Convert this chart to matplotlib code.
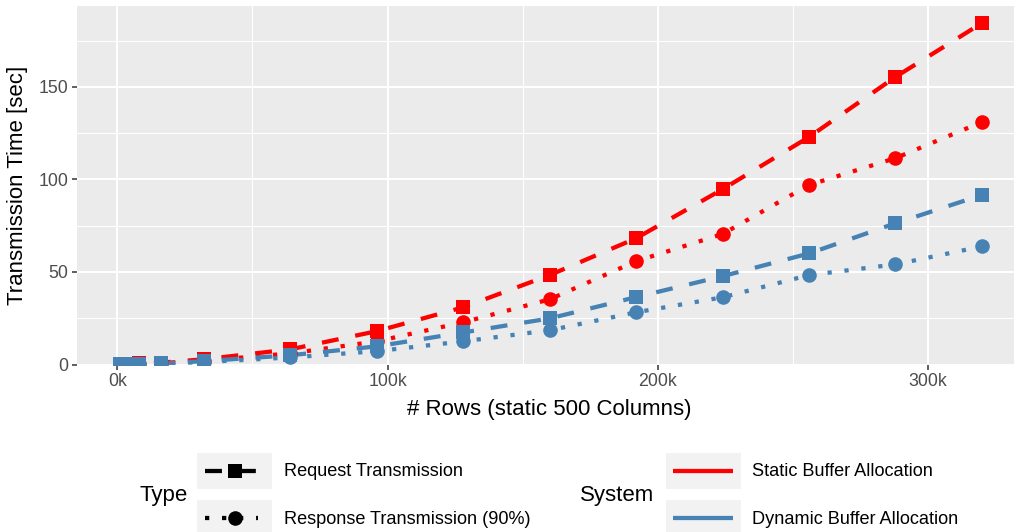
import matplotlib
matplotlib.use("Agg")
import matplotlib.pyplot as plt
from matplotlib.ticker import FuncFormatter, MultipleLocator
from matplotlib.patches import Rectangle
from matplotlib.lines import Line2D

plt.rcParams["font.family"] = ["Liberation Sans", "DejaVu Sans"]
plt.rcParams["lines.scale_dashes"] = False

# ---- data -------------------------------------------------------------
rows = [1000, 2000, 4000, 8000, 16000, 32000, 64000, 96000, 128000,
        160000, 192000, 224000, 256000, 288000, 320000]
static_request = [0.1, 0.2, 0.3, 0.6, 1.0, 2.8, 8.2, 18.0, 30.9,
                  48.3, 68.2, 94.7, 122.9, 155.4, 184.5]
static_response = [0.1, 0.1, 0.2, 0.4, 0.8, 2.0, 6.0, 12.5, 22.8,
                   35.2, 55.8, 70.5, 97.0, 111.5, 131.0]
dynamic_request = [0.1, 0.1, 0.2, 0.4, 0.6, 1.8, 5.0, 9.8, 17.3,
                   24.9, 36.4, 47.7, 60.0, 76.3, 91.6]
dynamic_response = [0.1, 0.1, 0.2, 0.3, 0.5, 1.3, 3.8, 7.2, 12.5,
                    18.5, 28.2, 36.3, 48.3, 54.1, 63.8]

systems = ["Static Buffer Allocation", "Dynamic Buffer Allocation"]
types = ["Request Transmission", "Response Transmission (90%)"]
x_ticks = [0, 100000, 200000, 300000]
y_ticks = [0, 50, 100, 150]

# ---- styling ----------------------------------------------------------
W, H, DPI = 1014, 532, 100
RED, BLUE = "#FF0000", "#4682B4"
LW = 3.06                      # points
DASHED = (12.2, 12.2)
DOTTED = (3.06, 9.2)
MS = 10.5
sys_color = {systems[0]: RED, systems[1]: BLUE}
type_style = {types[0]: (DASHED, "s"), types[1]: (DOTTED, "o")}

series = {
    (systems[0], types[0]): static_request,
    (systems[0], types[1]): static_response,
    (systems[1], types[0]): dynamic_request,
    (systems[1], types[1]): dynamic_response,
}

fig = plt.figure(figsize=(W / DPI, H / DPI), dpi=DPI)
fig.patch.set_facecolor("white")

# panel in pixel geometry (right edge runs past the canvas)
left_px, right_px, top_px, bottom_px = 77, 1025, 6, 364.5
ax = fig.add_axes([left_px / W, 1 - bottom_px / H,
                   (right_px - left_px) / W, (bottom_px - top_px) / H])
ax.set_facecolor("#EBEBEB")
for s in ax.spines.values():
    s.set_visible(False)

# lines first, then points
for sysname in systems:
    for tname in types:
        dash, _ = type_style[tname]
        ln, = ax.plot(rows, series[(sysname, tname)], color=sys_color[sysname],
                      lw=LW, zorder=3, solid_capstyle="butt",
                      dash_capstyle="butt")
        ln.set_dashes(dash)
for sysname in systems:
    for tname in types:
        _, mk = type_style[tname]
        ax.plot(rows, series[(sysname, tname)], ls="none", marker=mk,
                ms=MS, color=sys_color[sysname], mew=0, zorder=4)

xr = max(rows) - min(rows)
ax.set_xlim(min(rows) - 0.05 * xr, max(rows) + 0.05 * xr)
all_vals = static_request + static_response + dynamic_request + dynamic_response
ax.set_ylim(0, max(all_vals) * 1.05)

ax.set_xticks(x_ticks)
ax.xaxis.set_major_formatter(FuncFormatter(lambda v, p: f"{int(round(v / 1000))}k"))
ax.xaxis.set_minor_locator(MultipleLocator(50000))
ax.set_yticks(y_ticks)
ax.yaxis.set_minor_locator(MultipleLocator(25))

ax.grid(which="major", color="white", lw=1.5, zorder=0)
ax.grid(which="minor", color="white", lw=0.75, zorder=0)
ax.set_axisbelow(True)
ax.tick_params(which="major", length=3.3, width=1.1, color="#333333",
               labelsize=12.8, labelcolor="#4D4D4D", pad=3)
ax.tick_params(which="minor", length=0)

ax.set_xlabel("# Rows (static 500 Columns)", fontsize=16, color="black")
ax.set_ylabel("Transmission Time [sec]", fontsize=16, color="black")
ax.xaxis.label.set_va("center")
ax.yaxis.label.set_va("center")
ax.xaxis.set_label_coords((549 - left_px) / (right_px - left_px),
                          -(409 - bottom_px) / (bottom_px - top_px))
ax.yaxis.set_label_coords((18 - left_px) / (right_px - left_px), 0.5)

# ---- legends, laid out in pixel space --------------------------------
lg = fig.add_axes([0, 0, 1, 1])
lg.set_xlim(0, W)
lg.set_ylim(H, 0)
lg.axis("off")

key_w, key_h = 75, 36
key_tops = [453, 500]


def legend_block(title, title_x, key_x, label_x, entries):
    lg.text(title_x, 495, title, fontsize=16, va="center", ha="left")
    for (label, draw), top in zip(entries, key_tops):
        lg.add_patch(Rectangle((key_x, top), key_w, key_h,
                               facecolor="#F2F2F2", edgecolor="none"))
        cy = top + key_h / 2
        draw(key_x, cy)
        lg.text(label_x, cy + 1, label, fontsize=13.1, va="center",
                ha="left", color="black")


def type_key(tname):
    dash, mk = type_style[tname]

    def draw(kx, cy):
        l = Line2D([kx + 8, kx + 61], [cy, cy], color="black", lw=LW,
                   dash_capstyle="butt", solid_capstyle="butt")
        l.set_dashes(dash)
        lg.add_line(l)
        lg.plot([kx + key_w / 2], [cy], marker=mk, ms=MS, color="black",
                mew=0)
    return draw


def sys_key(sysname):
    def draw(kx, cy):
        lg.plot([kx + 7, kx + 67], [cy, cy], color=sys_color[sysname],
                lw=LW, solid_capstyle="butt")
    return draw


legend_block("Type", 140, 197, 284,
             [(t, type_key(t)) for t in types])
legend_block("System", 580, 666, 752,
             [(s, sys_key(s)) for s in systems])

fig.savefig("out.png", dpi=DPI)
